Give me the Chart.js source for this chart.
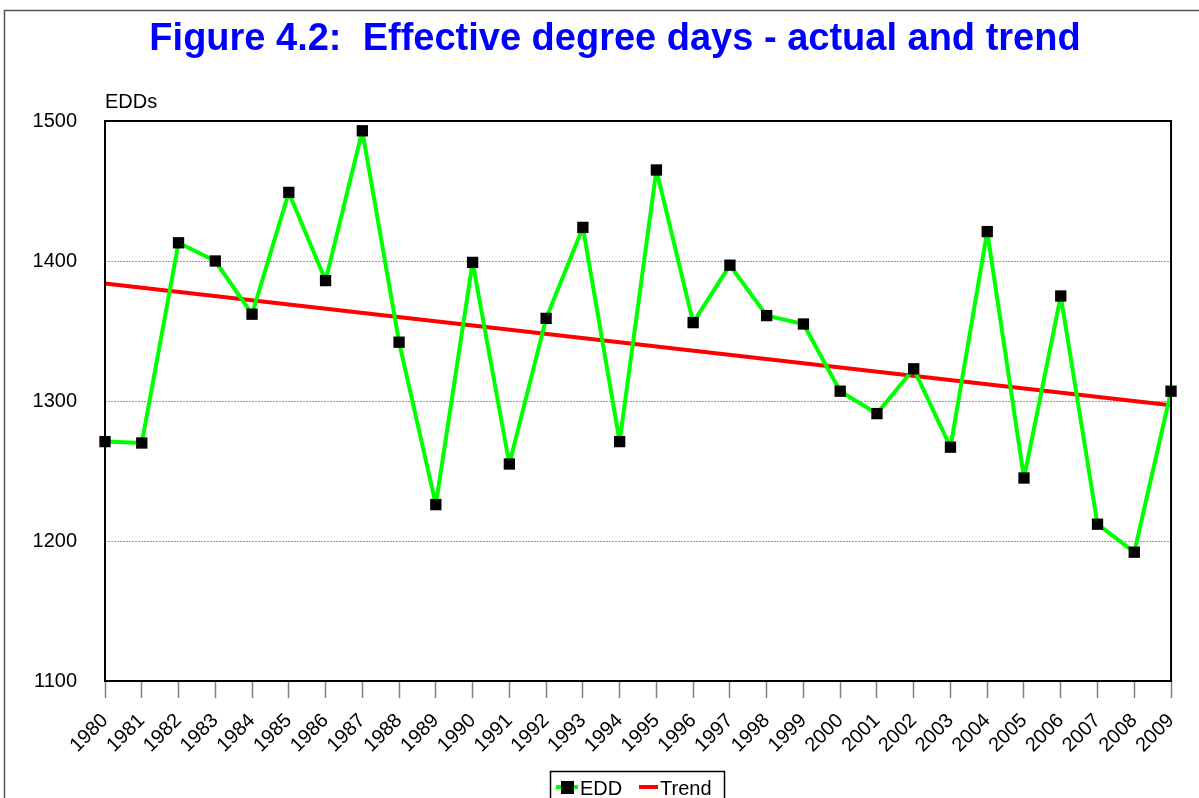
<!DOCTYPE html>
<html>
<head>
<meta charset="utf-8">
<script src="https://cdn.jsdelivr.net/npm/chart.js@4"></script>
<style>
  html, body { margin: 0; padding: 0; background: #fff; }
  #wrap { position: relative; width: 1199px; height: 798px; }
</style>
</head>
<body>
<div id="wrap"><canvas id="c" width="1199" height="798"></canvas></div>
<script>
const years = ['1980','1981','1982','1983','1984','1985','1986','1987','1988','1989',
  '1990','1991','1992','1993','1994','1995','1996','1997','1998','1999',
  '2000','2001','2002','2003','2004','2005','2006','2007','2008','2009'];
const eddValues = [1271, 1270, 1413, 1400, 1362, 1449, 1386, 1493, 1342, 1226,
  1399, 1255, 1359, 1424, 1271, 1465, 1356, 1397, 1361, 1355,
  1307, 1291, 1323, 1267, 1421, 1245, 1375, 1212, 1192, 1307];
const trendYears = ['1980', '2009'];
const trendValues = [1384, 1297];
const yTicks = [1100, 1200, 1300, 1400, 1500];

const titleText = 'Figure 4.2:  Effective degree days - actual and trend';
const yUnitText = 'EDDs';
const FONT = '"Liberation Sans", Arial, sans-serif';

const decor = {
  id: 'decor',
  beforeDraw(chart) {
    const ctx = chart.ctx;
    ctx.save();
    ctx.strokeStyle = '#555';
    ctx.lineWidth = 1.5;
    ctx.beginPath();
    ctx.moveTo(4.5, 800);
    ctx.lineTo(4.5, 10.5);
    ctx.lineTo(1200, 10.5);
    ctx.stroke();
    ctx.restore();
  },
  afterDatasetsDraw(chart) {
    const ctx = chart.ctx;
    const a = chart.chartArea;
    ctx.save();
    // plot border
    ctx.strokeStyle = '#000';
    ctx.lineWidth = 2;
    ctx.strokeRect(a.left, a.top, a.right - a.left, a.bottom - a.top);
    // title
    ctx.fillStyle = '#0000FF';
    ctx.font = 'bold 38px ' + FONT;
    ctx.textAlign = 'center';
    ctx.textBaseline = 'alphabetic';
    ctx.fillText(titleText, 615, 50);
    // unit label
    ctx.fillStyle = '#000';
    ctx.font = '20px ' + FONT;
    ctx.textAlign = 'left';
    ctx.fillText(yUnitText, a.left, 108);
    // legend
    ctx.fillStyle = '#fff';
    ctx.fillRect(550, 771, 174, 40);
    ctx.strokeStyle = '#000';
    ctx.lineWidth = 1.5;
    ctx.strokeRect(550.5, 771.5, 174, 40);
    const ly = 787;
    ctx.strokeStyle = '#00FF00';
    ctx.lineWidth = 4;
    ctx.beginPath(); ctx.moveTo(556, ly); ctx.lineTo(578, ly); ctx.stroke();
    ctx.fillStyle = '#000';
    ctx.fillRect(561, ly - 6, 13, 13);
    ctx.fillText('EDD', 580, 795);
    ctx.strokeStyle = '#FF0000';
    ctx.beginPath(); ctx.moveTo(639, ly); ctx.lineTo(658, ly); ctx.stroke();
    ctx.fillStyle = '#000';
    ctx.fillText('Trend', 660, 795);
    ctx.restore();
  }
};

new Chart(document.getElementById('c'), {
  type: 'line',
  data: {
    labels: years,
    datasets: [
      {
        label: 'EDD',
        data: eddValues,
        borderColor: '#00FF00',
        backgroundColor: '#000',
        borderWidth: 4,
        borderJoinStyle: 'round',
        borderCapStyle: 'round',
        pointStyle: 'rect',
        pointRadius: 8,
        pointBorderWidth: 0,
        pointBackgroundColor: '#000',
        pointBorderColor: '#000',
        tension: 0,
        order: 1
      },
      {
        label: 'Trend',
        data: trendYears.map((y, i) => ({ x: y, y: trendValues[i] })),
        borderColor: '#FF0000',
        borderWidth: 4,
        pointRadius: 0,
        tension: 0,
        order: 2
      }
    ]
  },
  options: {
    responsive: false,
    animation: false,
    layout: { padding: { top: 121, right: 27, left: 0, bottom: 0 } },
    plugins: {
      legend: { display: false },
      title: { display: false },
      tooltip: { enabled: false }
    },
    scales: {
      x: {
        type: 'category',
        offset: false,
        afterFit(scale) { scale.height = 117; },
        grid: {
          display: true,
          drawOnChartArea: false,
          drawTicks: true,
          tickLength: 17,
          tickColor: '#808080',
          tickWidth: 1.5
        },
        border: { display: false },
        ticks: {
          autoSkip: false,
          minRotation: 45,
          maxRotation: 45,
          padding: 11,
          color: '#000',
          font: { family: FONT, size: 20 }
        }
      },
      y: {
        min: yTicks[0],
        max: yTicks[yTicks.length - 1],
        afterFit(scale) { scale.width = 105; },
        afterBuildTicks(scale) { scale.ticks = yTicks.map(v => ({ value: v })); },
        grid: {
          drawTicks: false,
          lineWidth: 1,
          color: (c) => (c.tick && (c.tick.value === 1100 || c.tick.value === 1500)) ? 'rgba(0,0,0,0)' : '#999'
        },
        border: { display: false, dash: [2, 1] },
        ticks: {
          padding: 28,
          color: '#000',
          font: { family: FONT, size: 20 },
          callback: (v) => String(v)
        }
      }
    }
  },
  plugins: [decor]
});
</script>
</body>
</html>
